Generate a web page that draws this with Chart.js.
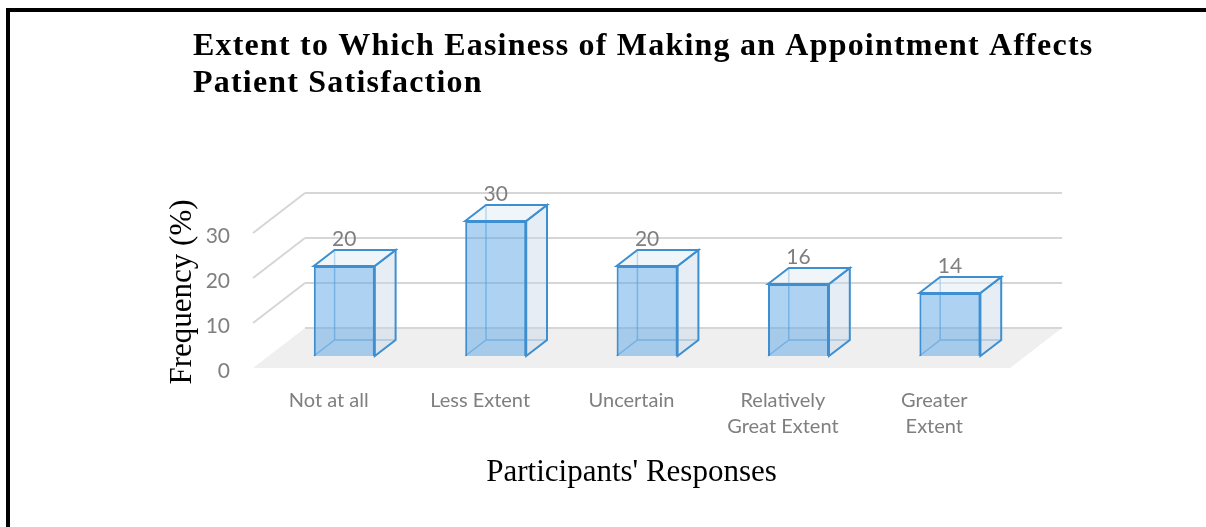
<!DOCTYPE html>
<html>
<head>
<meta charset="utf-8">
<script src="https://cdn.jsdelivr.net/npm/chart.js@4.4.0/dist/chart.umd.min.js"></script>
<style>
    body { margin: 0; background: #fff; }
    #wrap { position: relative; width: 1206px; height: 527px; overflow: hidden; }
    #frame {
        position: absolute; left: 6px; top: 8px; right: -10px; bottom: -10px;
        border-top: 4px solid #000; border-left: 4px solid #000;
        pointer-events: none;
    }
</style>
</head>
<body>
<div id="wrap">
    <canvas id="chart" width="1206" height="527"></canvas>
    <div id="frame"></div>
</div>
<script>
// datos del gráfico
const categories = [
    "Not at all",
    "Less Extent",
    "Uncertain",
    ["Relatively", "Great Extent"],
    ["Greater", "Extent"],
];
const frequency = [20, 30, 20, 16, 14];
const yTicks = [0, 10, 20, 30];

const titleLines = [
    "Extent to Which Easiness of Making an Appointment Affects",
    "Patient Satisfaction",
];
const yTitle = "Frequency (%)";
const xTitle = "Participants' Responses";

// profundidad del "3D"
const DX = 52, DY = -40;
const BAR_FRONT = 0.3, BAR_DEPTH = 0.4;
const EDGE = "#3d8fd1";
const LABEL_GRAY = "#7f7f7f";

function barBox(el) {
    const w = el.width;
    return {
        x1: el.x - w / 2,
        x2: el.x + w / 2,
        top: el.y,
        bot: el.base,
        dx: DX * BAR_DEPTH,
        dy: DY * BAR_DEPTH,
    };
}

const box3d = {
    id: "box3d",
    beforeDatasetsDraw(chart) {
        const { ctx, chartArea: a, scales: { y } } = chart;
        const y0 = y.getPixelForValue(0);

        ctx.save();
        // suelo
        ctx.fillStyle = "#efefef";
        ctx.beginPath();
        ctx.moveTo(a.left, y0);
        ctx.lineTo(a.right, y0);
        ctx.lineTo(a.right + DX, y0 + DY);
        ctx.lineTo(a.left + DX, y0 + DY);
        ctx.closePath();
        ctx.fill();

        // líneas de cuadrícula en pared trasera y lateral
        ctx.strokeStyle = "#d6d6d6";
        ctx.lineWidth = 2;
        yTicks.forEach((v) => {
            const py = y.getPixelForValue(v);
            ctx.beginPath();
            ctx.moveTo(a.left + DX, py + DY);
            ctx.lineTo(a.right + DX, py + DY);
            if (v > 0) {
                ctx.moveTo(a.left, py);
                ctx.lineTo(a.left + DX, py + DY);
            }
            ctx.stroke();
        });

        // desplazar las barras hacia el fondo
        ctx.translate(DX * BAR_FRONT, DY * BAR_FRONT);

        // aristas ocultas
        const meta = chart.getDatasetMeta(0);
        ctx.strokeStyle = "rgba(61,143,209,0.55)";
        ctx.lineWidth = 1.5;
        meta.data.forEach((el) => {
            const b = barBox(el);
            ctx.beginPath();
            ctx.moveTo(b.x1, b.bot);
            ctx.lineTo(b.x1 + b.dx, b.bot + b.dy);
            ctx.lineTo(b.x2 + b.dx, b.bot + b.dy);
            ctx.moveTo(b.x1 + b.dx, b.bot + b.dy);
            ctx.lineTo(b.x1 + b.dx, b.top + b.dy);
            ctx.stroke();
        });
    },
    afterDatasetsDraw(chart) {
        const { ctx } = chart;
        const meta = chart.getDatasetMeta(0);

        meta.data.forEach((el, i) => {
            const b = barBox(el);
            ctx.lineWidth = 2;
            ctx.strokeStyle = EDGE;
            ctx.lineJoin = "miter";

            // cara lateral
            ctx.fillStyle = "rgba(200,215,230,0.45)";
            ctx.beginPath();
            ctx.moveTo(b.x2, b.top);
            ctx.lineTo(b.x2 + b.dx, b.top + b.dy);
            ctx.lineTo(b.x2 + b.dx, b.bot + b.dy);
            ctx.lineTo(b.x2, b.bot);
            ctx.closePath();
            ctx.fill();
            ctx.stroke();

            // cara superior
            ctx.fillStyle = "rgba(225,235,245,0.5)";
            ctx.beginPath();
            ctx.moveTo(b.x1, b.top);
            ctx.lineTo(b.x1 + b.dx, b.top + b.dy);
            ctx.lineTo(b.x2 + b.dx, b.top + b.dy);
            ctx.lineTo(b.x2, b.top);
            ctx.closePath();
            ctx.fill();
            ctx.stroke();

            // etiqueta de valor
            ctx.fillStyle = LABEL_GRAY;
            ctx.font = '21px Lato';
            ctx.textAlign = "center";
            ctx.textBaseline = "middle";
            ctx.fillText(String(frequency[i]), el.x, b.top + b.dy - 11);
        });

        ctx.restore();
    },
};

const textLayer = {
    id: "textLayer",
    afterDraw(chart) {
        const { ctx } = chart;
        ctx.save();
        // título
        ctx.fillStyle = "#000";
        ctx.font = 'bold 32px "Liberation Serif"';
        ctx.letterSpacing = "1.2px";
        ctx.textAlign = "left";
        ctx.textBaseline = "alphabetic";
        ctx.fillText(titleLines[0], 193, 55);
        ctx.fillText(titleLines[1], 193, 92);
        ctx.letterSpacing = "0px";

        // título eje Y
        ctx.font = '31px "Liberation Serif"';
        ctx.translate(183, 292);
        ctx.rotate(-Math.PI / 2);
        ctx.textAlign = "center";
        ctx.textBaseline = "middle";
        ctx.fillText(yTitle, 0, 0);
        ctx.restore();
    },
};

new Chart(document.getElementById("chart"), {
    type: "bar",
    data: {
        labels: categories,
        datasets: [
            {
                data: frequency,
                backgroundColor: "rgba(91,166,230,0.5)",
                borderColor: EDGE,
                borderWidth: 2,
                barPercentage: 0.403,
                categoryPercentage: 1,
                clip: false,
            },
        ],
    },
    options: {
        responsive: false,
        animation: false,
        layout: { padding: { top: 233, right: 196, bottom: 0, left: 0 } },
        plugins: {
            legend: { display: false },
            tooltip: { enabled: false },
        },
        scales: {
            x: {
                grid: { display: false, drawTicks: false },
                border: { display: false },
                ticks: {
                    color: LABEL_GRAY,
                    font: { family: "Lato", size: 20, lineHeight: 1.33 },
                    padding: 19,
                    maxRotation: 0,
                    autoSkip: false,
                },
                title: {
                    display: true,
                    text: xTitle,
                    color: "#000",
                    font: { family: '"Liberation Serif"', size: 31, lineHeight: 1.2 },
                    padding: { top: 0, bottom: 36 },
                },
                afterFit(s) {
                    s.height = 159;
                },
            },
            y: {
                min: 0,
                max: 30,
                grid: { display: false, drawTicks: false },
                border: { display: false },
                ticks: {
                    stepSize: 10,
                    color: LABEL_GRAY,
                    font: { family: "Lato", size: 21 },
                    padding: 23,
                    labelOffset: 3,
                },
                afterFit(s) {
                    s.width = 253;
                },
            },
        },
    },
    plugins: [box3d, textLayer],
});
</script>
</body>
</html>
